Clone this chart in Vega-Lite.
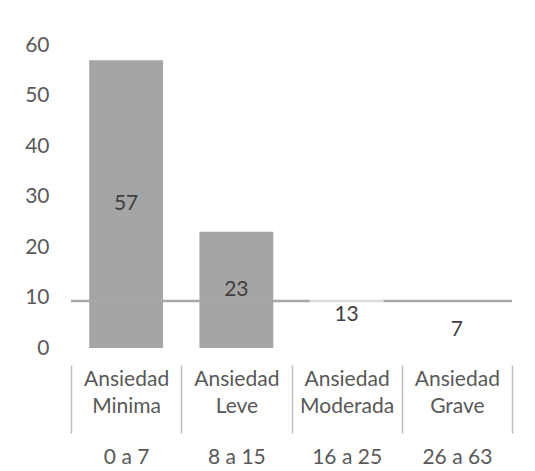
{
  "$schema": "https://vega.github.io/schema/vega-lite/v6.json",
  "width": 441,
  "height": 303,
  "autosize": {"type": "none"},
  "padding": {"left": 71, "top": 45, "right": 23, "bottom": 123},
  "background": "white",
  "config": {
    "view": {"stroke": null},
    "font": "Lato",
    "axis": {"labelFont": "Lato", "labelColor": "#595959", "labelFontSize": 21, "grid": false}
  },
  "data": {
    "values": [
      {"nivel": "Ansiedad Minima", "rango": "0 a 7", "valor": 57},
      {"nivel": "Ansiedad Leve", "rango": "8 a 15", "valor": 23},
      {"nivel": "Ansiedad Moderada", "rango": "16 a 25", "valor": 13},
      {"nivel": "Ansiedad Grave", "rango": "26 a 63", "valor": 7}
    ]
  },
  "layer": [
    {
      "layer": [
        {
          "transform": [{"filter": "datum.valor >= 20"}],
          "mark": {"type": "bar", "color": "#A5A5A5", "width": {"band": 0.67}},
          "encoding": {
            "x": {
              "field": "nivel", "type": "nominal",
              "scale": {"domain": ["Ansiedad Minima", "Ansiedad Leve", "Ansiedad Moderada", "Ansiedad Grave"], "paddingInner": 0, "paddingOuter": 0},
              "axis": {
                "orient": "bottom", "title": null, "offset": 17, "domain": false,
                "tickBand": "extent", "tickSize": 68, "tickColor": "#BFBFBF", "tickWidth": 1.5,
                "labelAngle": 0, "labelExpr": "split(datum.label, ' ')",
                "labelLineHeight": 27, "labelBaseline": "top", "labelPadding": -65
              }
            },
            "y": {
              "field": "valor", "type": "quantitative",
              "scale": {"domain": [0, 60], "nice": false},
              "axis": {"title": null, "values": [0, 10, 20, 30, 40, 50, 60], "domain": false, "ticks": false, "labelPadding": 22}
            }
          }
        },
        {
          "data": {"values": [{"linea": 9.3}]},
          "mark": {"type": "rule", "color": "#A8A8A8", "strokeWidth": 2.5},
          "encoding": {"y": {"field": "linea", "type": "quantitative"}}
        },
        {
          "transform": [{"filter": "datum.valor < 20"}],
          "mark": {"type": "bar", "color": "white", "opacity": 0.6, "width": {"band": 0.67}},
          "encoding": {
            "x": {"field": "nivel", "type": "nominal"},
            "y": {"field": "valor", "type": "quantitative"}
          }
        }
      ]
    },
    {
      "mark": {"type": "text", "fontSize": 21, "color": "#404040", "baseline": "middle", "font": "Lato"},
      "encoding": {
        "x": {
          "field": "rango", "type": "nominal", "sort": null,
          "scale": {"paddingInner": 0, "paddingOuter": 0},
          "axis": {"orient": "bottom", "title": null, "offset": 17, "domain": false, "ticks": false, "labelAngle": 0, "labelBaseline": "middle", "labelPadding": 92}
        },
        "y": {
          "field": "valor", "type": "quantitative",
          "scale": {"domain": [0, 120], "nice": false},
          "axis": null
        },
        "text": {"field": "valor", "type": "quantitative"}
      }
    }
  ],
  "resolve": {"scale": {"x": "independent", "y": "independent"}, "axis": {"x": "independent", "y": "independent"}}
}
